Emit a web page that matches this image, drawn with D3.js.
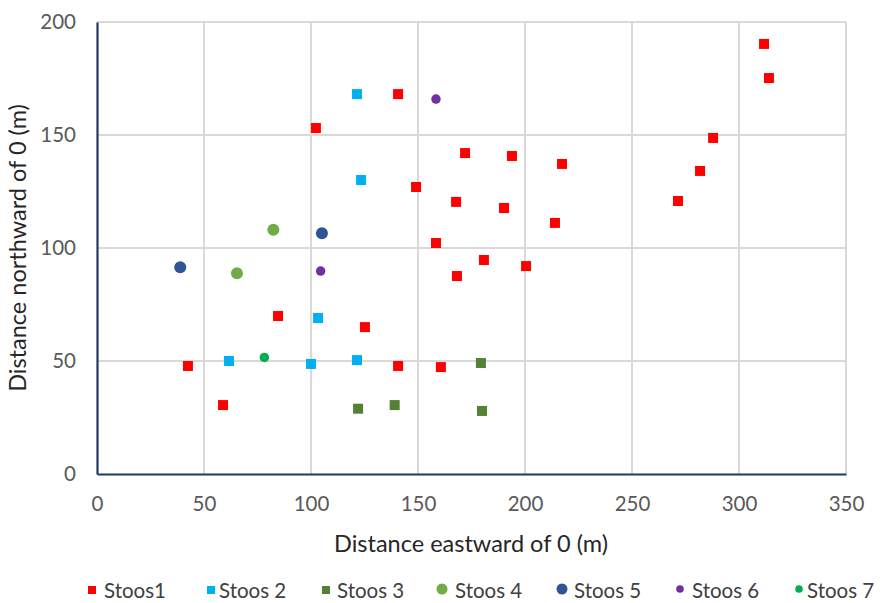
<!DOCTYPE html>
<html><head><meta charset="utf-8">
<script src="https://cdn.jsdelivr.net/npm/d3@7"></script>
<style>body{margin:0;background:#fff;} svg{display:block;}</style>
</head><body>
<svg id="chart" width="890" height="603"></svg>
<script>
// ---- data ----
const seriesNames = ["Stoos1","Stoos 2","Stoos 3","Stoos 4","Stoos 5","Stoos 6","Stoos 7"];
const stoos1 = [[42.5,47.8],[58.9,30.5],[84.6,69.9],[102.3,153.1],[125.2,65.0],[140.7,168.1],[140.7,47.8],
  [149.1,127.0],[158.4,102.2],[160.7,47.3],[167.8,120.4],[168.2,87.6],[172.0,142.0],[180.8,94.7],
  [190.2,117.7],[193.9,140.7],[200.5,92.0],[214.0,111.1],[217.3,137.2],[271.5,120.8],[281.8,134.1],
  [287.9,148.7],[311.7,190.3],[314.0,175.2]];
const stoos2 = [[61.7,50.0],[100.0,48.7],[103.3,69.0],[121.5,50.4],[121.5,168.1],[123.4,130.1]];
const stoos3 = [[122.0,28.9],[139.1,30.5],[179.4,49.1],[179.9,27.9]];
const stoos4 = [[65.4,88.8],[82.4,108.1]];
const stoos5 = [[38.9,91.5],[105.1,106.5]];
const stoos6 = [[104.5,89.8],[158.4,165.9]];
const stoos7 = [[78.2,51.6]];
const xTicks = [0,50,100,150,200,250,300,350];
const yTicks = [0,50,100,150,200];
const xTitle = "Distance eastward of 0 (m)";
const yTitle = "Distance northward of 0 (m)";

(function(){
// ---- styles ----
const styles = [
  {color:"#FF0000", shape:"square", size:10},
  {color:"#00B0F0", shape:"square", size:10},
  {color:"#548235", shape:"square", size:10},
  {color:"#70AD47", shape:"circle", size:12},
  {color:"#2F5597", shape:"circle", size:12},
  {color:"#7030A0", shape:"circle", size:9.5},
  {color:"#00B050", shape:"circle", size:9.5}
];
const allSeries = [stoos1,stoos2,stoos3,stoos4,stoos5,stoos6,stoos7];

const svg = d3.select("#chart");
const font = "Lato, 'Open Sans', sans-serif";
const pLeft = 97, pRight = 846, pTop = 22, pBottom = 474;
const x = d3.scaleLinear().domain([0,350]).range([pLeft,pRight]);
const y = d3.scaleLinear().domain([0,200]).range([pBottom,pTop]);

// gridlines
svg.append("g").selectAll("line").data(xTicks.filter(t=>t>0)).join("line")
  .attr("x1",d=>x(d)).attr("x2",d=>x(d)).attr("y1",pTop).attr("y2",pBottom)
  .attr("stroke","#d9d9d9").attr("stroke-width",2);
svg.append("g").selectAll("line").data(yTicks.filter(t=>t>0)).join("line")
  .attr("x1",pLeft).attr("x2",pRight).attr("y1",d=>y(d)).attr("y2",d=>y(d))
  .attr("stroke","#d9d9d9").attr("stroke-width",2);

// axes
const xAxis = svg.append("g").attr("transform",`translate(0,${pBottom})`)
  .call(d3.axisBottom(x).tickValues(xTicks).tickSize(0).tickPadding(22));
const yAxis = svg.append("g").attr("transform",`translate(${pLeft},0)`)
  .call(d3.axisLeft(y).tickValues(yTicks).tickSize(0).tickPadding(21));
[xAxis,yAxis].forEach(a=>{
  a.select(".domain").attr("stroke","#203864").attr("stroke-width",2.2);
  a.selectAll("text").attr("fill","#595959").style("font-family",font).style("font-size","20.5px");
});

// points
allSeries.forEach((data,i)=>{
  const s = styles[i];
  const g = svg.append("g");
  if (s.shape==="square") {
    g.selectAll("rect").data(data).join("rect")
      .attr("x",d=>x(d[0])-s.size/2).attr("y",d=>y(d[1])-s.size/2)
      .attr("width",s.size).attr("height",s.size).attr("fill",s.color);
  } else {
    g.selectAll("circle").data(data).join("circle")
      .attr("cx",d=>x(d[0])).attr("cy",d=>y(d[1])).attr("r",s.size/2).attr("fill",s.color);
  }
});

// axis titles
svg.append("text").attr("x",471).attr("y",552).attr("text-anchor","middle")
  .attr("fill","#262626").style("font-family",font).style("font-size","23.5px").text(xTitle);
svg.append("text").attr("transform","translate(26,248) rotate(-90)").attr("text-anchor","middle")
  .attr("fill","#262626").style("font-family",font).style("font-size","23.5px").text(yTitle);

// legend
const markerX = [92,211,326,442,562,680,799];
const textX = [104,219,337,455,574,692,807];
const lg = svg.append("g");
seriesNames.forEach((name,i)=>{
  const s = styles[i], cx = markerX[i], cy = 590;
  if (s.shape==="square") {
    lg.append("rect").attr("x",cx-4).attr("y",cy-4).attr("width",8).attr("height",8).attr("fill",s.color);
  } else {
    const r = i<5 ? 5.5 : 3.8;
    lg.append("circle").attr("cx",cx).attr("cy",cy-1).attr("r",r).attr("fill",s.color);
  }
  lg.append("text").attr("x",textX[i]).attr("y",cy+8).attr("fill","#404040")
    .style("font-family",font).style("font-size","20.5px").text(name);
});
})();
</script>
</body></html>
